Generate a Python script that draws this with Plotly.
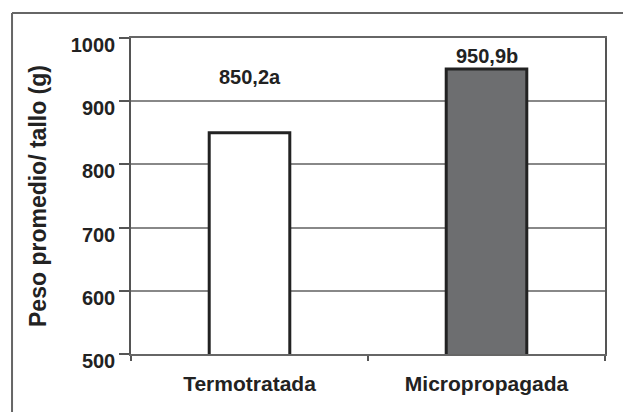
import plotly.graph_objects as go

# Average stalk weight by planting-material type
categories = ["Termotratada", "Micropropagada"]
weights = [850.2, 950.9]
value_labels = ["850,2a", "950,9b"]
bar_fills = ["#ffffff", "#6d6e70"]
y_ticks = [500, 600, 700, 800, 900, 1000]

FONT = "Liberation Sans, Arial, sans-serif"
INK = "#222222"
FRAME = "#666666"

fig = go.Figure()
fig.add_trace(go.Bar(
    x=categories,
    y=weights,
    width=0.34,
    marker=dict(color=bar_fills, line=dict(color=INK, width=3)),
    showlegend=False,
))

# Value labels above the bars (pixel offsets from each bar top)
label_shifts = [43, 0]
for cat, val, txt, shift in zip(categories, weights, value_labels, label_shifts):
    fig.add_annotation(
        x=cat, y=val, text=txt, showarrow=False,
        yanchor="bottom", yshift=shift,
        font=dict(family=FONT, size=20, color=INK, weight="bold"),
    )

# Outer frame: left and top edges
fig.add_shape(type="line", xref="paper", yref="paper",
              x0=-0.251, x1=-0.251, y0=-0.19, y1=1.079,
              line=dict(color=FRAME, width=2))
fig.add_shape(type="line", xref="paper", yref="paper",
              x0=-0.251, x1=1.04, y0=1.079, y1=1.079,
              line=dict(color=FRAME, width=2))

fig.update_layout(
    width=623, height=412,
    margin=dict(l=131, r=18, t=38, b=58),
    paper_bgcolor="white", plot_bgcolor="white",
    font=dict(family=FONT, size=20, color=INK),
)
fig.update_xaxes(
    type="category",
    tickson="boundaries", ticks="outside", ticklen=5, tickwidth=1.5, tickcolor="#555555",
    showline=True, linecolor="#666666", linewidth=1.5, mirror=True,
    showgrid=False,
    ticklabelstandoff=10,
    tickfont=dict(family=FONT, size=21, color=INK, weight="bold"),
)
fig.update_yaxes(
    range=[500, 1000], tickvals=y_ticks,
    ticks="outside", ticklen=10, tickwidth=1.5, tickcolor="#555555",
    showline=True, linecolor="#555555", linewidth=1.5, mirror=True,
    showgrid=True, gridcolor="#888888", gridwidth=1.5,
    ticklabelshift=7,
    tickfont=dict(family=FONT, size=20, color=INK, weight="bold"),
    title=dict(text="Peso promedio/ tallo (g)", standoff=18,
               font=dict(family=FONT, size=23, color=INK, weight="bold")),
)

fig.write_html("out.html")
